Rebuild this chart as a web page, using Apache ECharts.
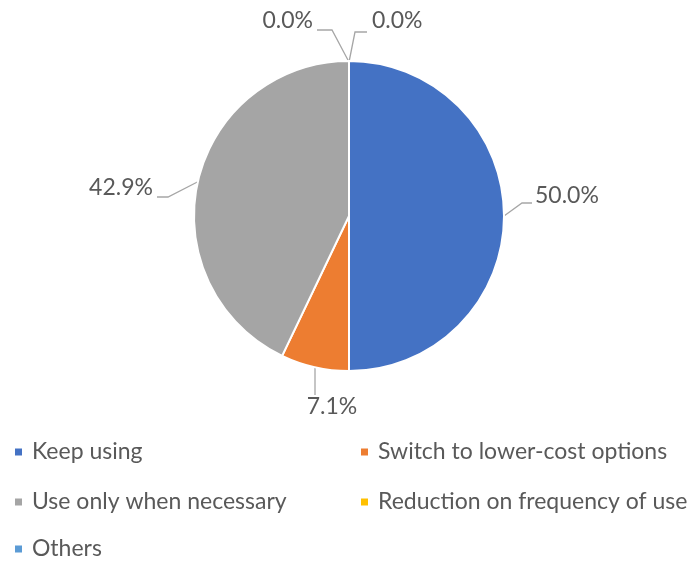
<!DOCTYPE html>
<html><head><meta charset="utf-8">
<script src="https://cdn.jsdelivr.net/npm/echarts@6/dist/echarts.min.js"></script>
<style>html,body{margin:0;padding:0;background:#fff}#c{width:698px;height:561px}</style>
</head><body><div id="c"></div>
<script>
const categories = ['Keep using', 'Switch to lower-cost options', 'Use only when necessary', 'Reduction on frequency of use', 'Others'];
const values = [50.0, 7.1, 42.9, 0.0, 0.0];
const colors = ['#4472C4', '#ED7D31', '#A5A5A5', '#FFC000', '#5B9BD5'];

const chart = echarts.init(document.getElementById('c'));
const FONT = 'Lato';
const legendText = {fontFamily: FONT, fontSize: 23, lineHeight: 24, color: '#595959', padding: [0, 0, 0, 4]};
// legend slots: [category index, left, top]
const legendSlots = [[0, 13, 440], [2, 13, 490], [4, 13, 537], [1, 359, 440], [3, 359, 490]];
chart.setOption({
  animation: false,
  color: colors,
  legend: legendSlots.map(s => ({
    data: [categories[s[0]]], left: s[1], top: s[2], padding: 0,
    itemWidth: 9, itemHeight: 9, icon: 'rect', textStyle: legendText, selectedMode: false
  })),
  series: [{
    type: 'pie',
    center: [349, 216],
    radius: 155,
    startAngle: 90,
    clockwise: true,
    avoidLabelOverlap: false,
    itemStyle: {borderColor: '#fff', borderWidth: 2},
    label: {
      show: true, position: 'outside', fontFamily: FONT, fontSize: 23, color: '#595959',
      formatter: p => p.value.toFixed(1) + '%'
    },
    labelLine: {show: true, length: 18, length2: 16, lineStyle: {color: '#A6A6A6', width: 1.3}},
    labelLayout: function (p) {
      const s = p.labelLinePoints ? p.labelLinePoints[0] : [349, 62];
      if (p.dataIndex === 3) {
        return {x: 313, y: 21, align: 'right', verticalAlign: 'middle',
          labelLinePoints: [[349, 62], [332, 30], [317, 30]]};
      }
      if (p.dataIndex === 4) {
        return {x: 372, y: 21, align: 'left', verticalAlign: 'middle',
          labelLinePoints: [[349, 62], [355, 32], [367, 32]]};
      }
      if (p.dataIndex === 1) {
        return {x: 332, y: 407, align: 'center', verticalAlign: 'middle',
          labelLinePoints: [[315, s[1]], [315, 395]]};
      }
      if (p.dataIndex === 0) {
        return {x: 535, y: 196, align: 'left', verticalAlign: 'middle',
          labelLinePoints: [[s[0], s[1]], [522, 203], [532, 203]]};
      }
      if (p.dataIndex === 2) {
        return {x: 153, y: 188, align: 'right', verticalAlign: 'middle',
          labelLinePoints: [[s[0], s[1]], [168, 197], [157, 197]]};
      }
    },
    data: categories.map((c, i) => ({name: c, value: values[i]}))
  }]
});
</script></body></html>
